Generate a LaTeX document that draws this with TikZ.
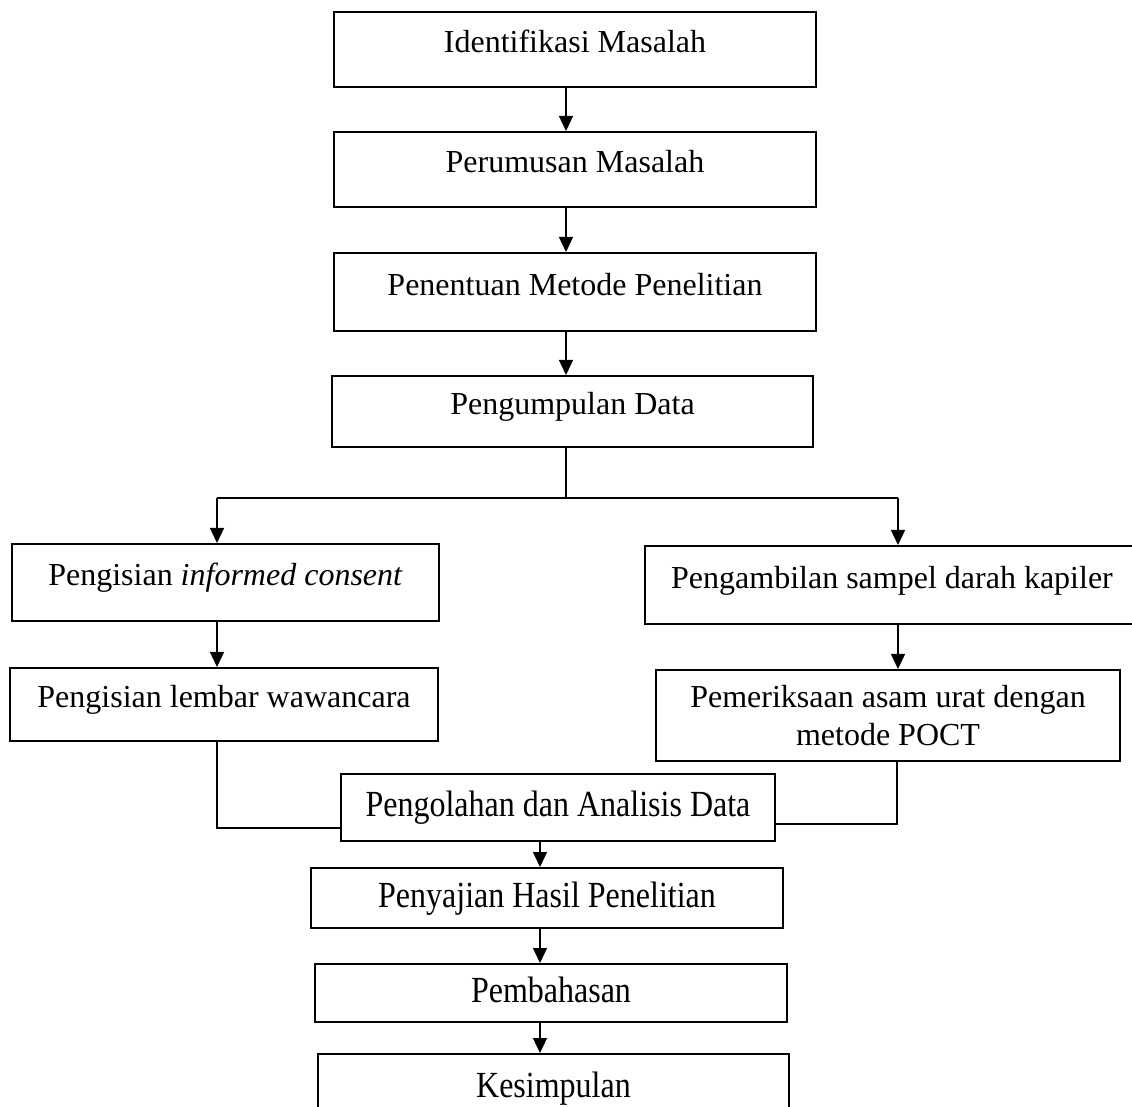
\documentclass[tikz,border=0pt]{standalone}
\usepackage{fontspec}
\usepackage{graphicx}
\setmainfont{Liberation Serif}
\usetikzlibrary{arrows.meta}
\newcommand{\tinggi}[1]{\scalebox{1}[1.15]{#1}}

\begin{document}
\begin{tikzpicture}[x=0.5pt, y=-0.5pt, font=\fontsize{16pt}{19.2pt}\selectfont,
  kotak/.style={draw, line width=1pt, inner sep=0pt, align=center},
  kotak1/.style={kotak, text height=0.66em, text depth=0.32em},
  kotak2/.style={kotak, text height=0.9em, text depth=0em},
  garis/.style={line width=0.65pt},
  panah/.style={garis, -{Triangle[width=7pt, length=7.5pt]}}]
  \useasboundingbox (0,0) rectangle (1132,1107);

  % titik bantu untuk jalur panah
  \coordinate (atas)  at (566,0);    % jalur tengah bagian atas
  \coordinate (bawah) at (540,0);    % jalur tengah bagian bawah
  \coordinate (cabang) at (566,498); % titik percabangan
  \coordinate (kiri)  at (217,498);  % cabang kiri
  \coordinate (kanan) at (898,498);  % cabang kanan
  \coordinate (gabkiri)  at (217,828); % pertemuan kiri
  \coordinate (gabkanan) at (897,824); % pertemuan kanan

  % tahap awal
  \node[kotak1, minimum width=241pt, minimum height=37.5pt] (idm) at (575,49.5) {Identifikasi Masalah};
  \node[kotak1, minimum width=241pt, minimum height=37.5pt] (pm) at (575,169.5) {Perumusan Masalah};
  \node[kotak1, minimum width=241pt, minimum height=39pt] (pmp) at (575,292) {Penentuan Metode Penelitian};
  \node[kotak1, minimum width=240.5pt, minimum height=35.5pt] (pd) at (572.5,411.5) {Pengumpulan Data};

  % cabang kiri dan kanan
  \node[kotak1, minimum width=213.5pt, minimum height=38.5pt] (ic) at (225.5,582.5) {Pengisian \textit{informed consent}};
  \node[kotak1, minimum width=214pt, minimum height=36.5pt] (lw) at (224,704.5) {Pengisian lembar wawancara};
  \node[kotak1, minimum width=247pt, minimum height=39pt] (sd) at (892,585) {Pengambilan sampel darah kapiler};
  \node[kotak, minimum width=232pt, minimum height=45.5pt] (pu) at (888,715.5) {Pemeriksaan asam urat dengan\\metode POCT};

  % tahap akhir
  \node[kotak2, minimum width=217pt, minimum height=33.5pt] (pad) at (558,807.5) {\tinggi{Pengolahan dan Analisis Data}};
  \node[kotak2, minimum width=236pt, minimum height=30pt] (php) at (547,898) {\tinggi{Penyajian Hasil Penelitian}};
  \node[kotak2, minimum width=236pt, minimum height=29pt] (pb) at (551,993) {\tinggi{Pembahasan}};
  \node[kotak2, minimum width=235.5pt, minimum height=34pt] (ks) at (553.5,1088) {\tinggi{Kesimpulan}};

  % panah tahap awal
  \draw[panah] (idm.south -| atas) -- (pm.north -| atas);
  \draw[panah] (pm.south -| atas) -- (pmp.north -| atas);
  \draw[panah] (pmp.south -| atas) -- (pd.north -| atas);

  % percabangan
  \draw[garis] (pd.south -| atas) -- (cabang);
  \draw[garis] (kiri) -- (kanan);
  \draw[panah] (kiri) -- (ic.north -| kiri);
  \draw[panah] (kanan) -- (sd.north -| kanan);
  \draw[panah] (ic.south -| kiri) -- (lw.north -| kiri);
  \draw[panah] (sd.south -| kanan) -- (pu.north -| kanan);

  % penggabungan
  \draw[garis] (lw.south -| gabkiri) -- (gabkiri) -- (pad.west |- gabkiri);
  \draw[garis] (pu.south -| gabkanan) -- (gabkanan) -- (pad.east |- gabkanan);

  % panah tahap akhir
  \draw[panah] (pad.south -| bawah) -- (php.north -| bawah);
  \draw[panah] (php.south -| bawah) -- (pb.north -| bawah);
  \draw[panah] (pb.south -| bawah) -- (ks.north -| bawah);
\end{tikzpicture}
\end{document}
